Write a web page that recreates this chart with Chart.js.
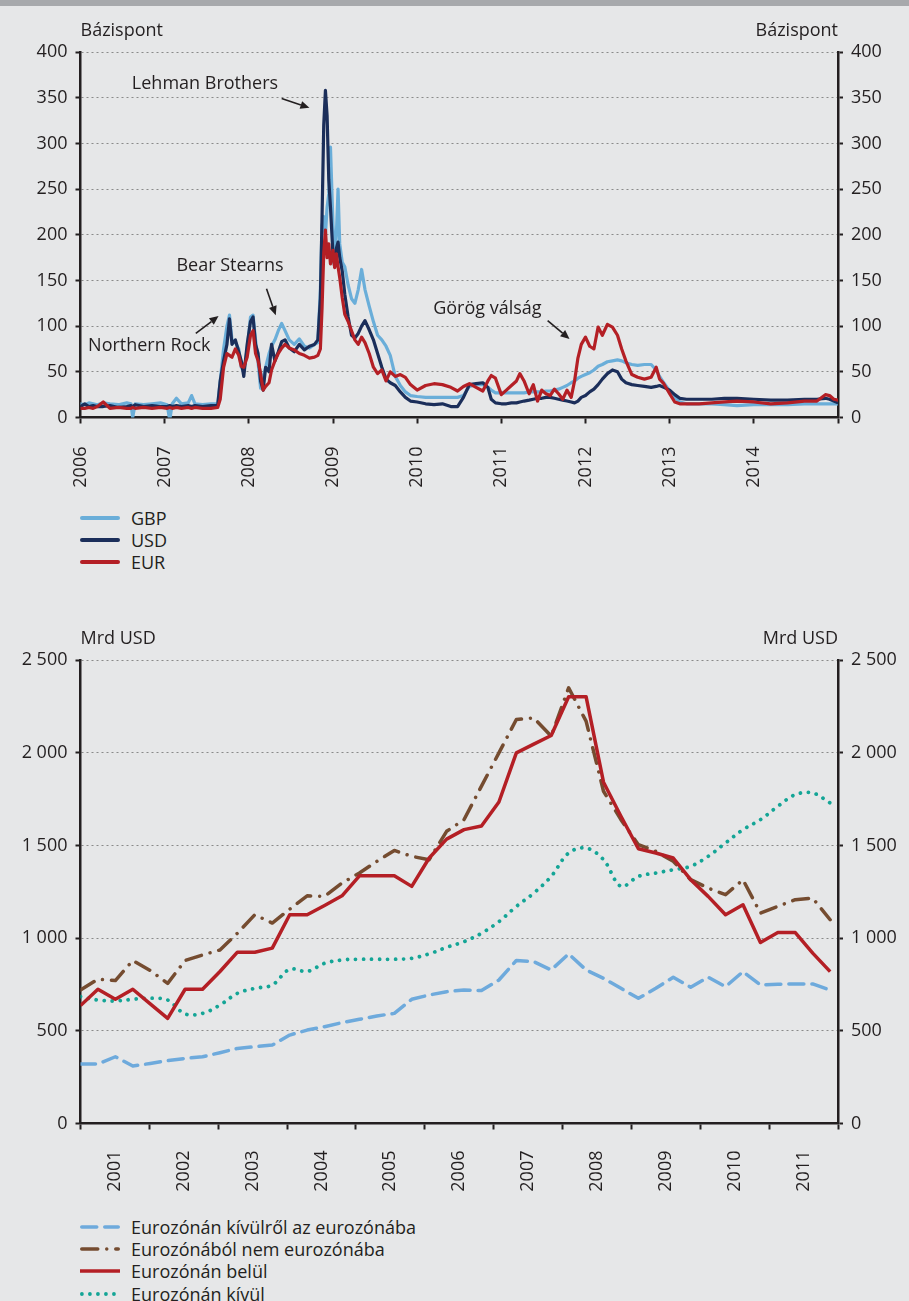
<!DOCTYPE html>
<html lang="hu">
<head>
<meta charset="utf-8">
<title>Bankközi felárak és határon átnyúló hitelezés</title>
<script src="https://cdn.jsdelivr.net/npm/chart.js@4.4.1/dist/chart.umd.min.js"></script>
<style>
  html, body { margin: 0; padding: 0; }
  body {
    width: 909px; height: 1301px; position: relative; overflow: hidden;
    background: #e6e7e8; color: #231f20;
    font-family: 'Open Sans', sans-serif;
  }
  .topbar { position: absolute; left: 0; top: 0; width: 909px; height: 6px; background: #a7a9ac; }
  canvas { position: absolute; left: 0; }
  #spreadChart { top: 0; }
  #flowChart { top: 600px; }
  .legend { position: absolute; left: 80px; font-size: 18px; }
  .legend div { display: flex; align-items: center; height: 22.2px; white-space: nowrap; }
  .legend svg { flex: none; margin-right: 11px; }
  #spreadLegend { top: 507px; }
  #flowLegend { top: 1216px; }
</style>
</head>
<body>
<div class="topbar"></div>
<canvas id="spreadChart" width="909" height="500"></canvas>
<div class="legend" id="spreadLegend"></div>
<canvas id="flowChart" width="909" height="600"></canvas>
<div class="legend" id="flowLegend"></div>

<script>
// ---- top chart: spreads in basis points ----
const spreadDates = [
  2006.00, 2006.05, 2006.10, 2006.15, 2006.20, 2006.27, 2006.35, 2006.45, 2006.55, 2006.60,
  2006.62, 2006.65, 2006.75, 2006.85, 2006.95, 2007.03, 2007.06, 2007.09, 2007.14, 2007.20,
  2007.28, 2007.32, 2007.36, 2007.45, 2007.55, 2007.63, 2007.66, 2007.70, 2007.74, 2007.77,
  2007.80, 2007.84, 2007.88, 2007.91, 2007.94, 2007.98, 2008.02, 2008.05, 2008.08, 2008.11,
  2008.14, 2008.17, 2008.20, 2008.24, 2008.27, 2008.31, 2008.35, 2008.39, 2008.43, 2008.48,
  2008.54, 2008.60, 2008.66, 2008.72, 2008.78, 2008.82, 2008.85, 2008.87, 2008.89, 2008.91,
  2008.93, 2008.95, 2008.97, 2009.00, 2009.02, 2009.04, 2009.06, 2009.08, 2009.11, 2009.14,
  2009.18, 2009.22, 2009.26, 2009.30, 2009.34, 2009.38, 2009.43, 2009.48, 2009.53, 2009.58,
  2009.63, 2009.68, 2009.74, 2009.80, 2009.86, 2009.92, 2010.00, 2010.10, 2010.20, 2010.30,
  2010.40, 2010.48, 2010.55, 2010.62, 2010.70, 2010.78, 2010.84, 2010.88, 2010.93, 2011.00,
  2011.06, 2011.12, 2011.18, 2011.22, 2011.27, 2011.33, 2011.38, 2011.43, 2011.48, 2011.53,
  2011.58, 2011.63, 2011.68, 2011.73, 2011.78, 2011.83, 2011.87, 2011.91, 2011.95, 2012.00,
  2012.05, 2012.10, 2012.15, 2012.20, 2012.26, 2012.32, 2012.38, 2012.43, 2012.48, 2012.55,
  2012.62, 2012.70, 2012.78, 2012.84, 2012.88, 2012.93, 2013.00, 2013.06, 2013.12, 2013.20,
  2013.35, 2013.50, 2013.65, 2013.80, 2014.00, 2014.20, 2014.40, 2014.60, 2014.75, 2014.85,
  2014.90, 2014.95, 2015.00
];
const gbp = [
  15, 14, 16, 15, 14, 16, 15, 14, 16, 15,
  0, 15, 14, 15, 16, 14, -3, 15, 21, 15,
  16, 24, 15, 14, 15, 15, 40, 75, 100, 112,
  85, 82, 75, 55, 50, 75, 110, 112, 85, 60,
  32, 45, 55, 70, 78, 85, 95, 103, 95, 85,
  80, 86, 78, 76, 80, 82, 140, 210, 220, 200,
  230, 245, 296, 210, 175, 200, 250, 190, 170, 165,
  145, 130, 125, 140, 162, 140, 122, 105, 90, 85,
  78, 68, 45, 35, 28, 24, 23, 22, 22, 22,
  22, 22, 24, 34, 36, 36, 33, 30, 27, 27,
  27, 27, 27, 27, 27, 28, 28, 28, 28, 29,
  29, 30, 31, 33, 35, 38, 40, 43, 45, 47,
  49, 52, 56, 58, 61, 62, 63, 62, 60, 58,
  57, 58, 58, 52, 45, 38, 29, 22, 17, 15,
  15, 15, 14, 13, 14, 14, 14, 15, 15, 15,
  15, 15, 15
];
const usd = [
  12, 15, 12, 13, 12, 12, 13, 11, 12, 13,
  12, 14, 12, 13, 12, 12, 13, 12, 13, 12,
  13, 12, 13, 12, 13, 13, 40, 62, 80, 108,
  80, 85, 72, 62, 45, 80, 105, 110, 80, 70,
  40, 30, 55, 50, 80, 62, 72, 83, 85, 76,
  72, 80, 74, 78, 80, 85, 130, 220, 320, 358,
  330, 260, 230, 178, 165, 185, 192, 175, 160, 135,
  110, 90, 87, 92, 100, 106, 96, 85, 70, 55,
  42, 38, 35, 28, 22, 18, 17, 15, 14, 15,
  12, 12, 22, 36, 37, 38, 33, 20, 16, 15,
  15, 16, 16, 17, 18, 19, 20, 21, 21, 22,
  22, 21, 20, 19, 18, 17, 16, 18, 22, 24,
  28, 31, 36, 42, 48, 52, 50, 42, 38, 36,
  35, 34, 33, 34, 35, 33, 30, 25, 21, 20,
  20, 20, 21, 21, 20, 19, 19, 20, 20, 21,
  20, 18, 16
];
const eur = [
  10, 10, 11, 10, 12, 17, 10, 11, 10, 10,
  11, 10, 11, 10, 11, 10, 11, 10, 11, 10,
  11, 10, 11, 10, 10, 11, 20, 55, 70, 68,
  66, 75, 68, 56, 55, 66, 90, 95, 70, 62,
  48, 30, 34, 38, 52, 62, 70, 76, 80, 76,
  74, 70, 68, 65, 66, 68, 75, 120, 180, 205,
  175, 190, 168, 183, 164, 179, 165, 153, 131, 113,
  105, 95, 85, 80, 88, 82, 70, 55, 48, 52,
  40, 50, 45, 47, 44, 36, 30, 35, 37, 36,
  33, 29, 34, 37, 33, 29, 40, 46, 43, 25,
  30, 35, 40, 48, 40, 26, 36, 18, 30, 26,
  24, 31, 26, 20, 30, 22, 40, 65, 80, 88,
  78, 75, 99, 90, 102, 99, 90, 75, 62, 47,
  44, 42, 44, 55, 42, 37, 26, 17, 15, 15,
  15, 16, 17, 18, 17, 15, 16, 18, 18, 25,
  24, 20, 19
];
const spreadYears = ['2006', '2007', '2008', '2009', '2010', '2011', '2012', '2013', '2014'];
const spreadTicks = ['0', '50', '100', '150', '200', '250', '300', '350', '400'];

// callouts, placed in data units (year, bp)
const spreadNotes = [
  { text: 'Lehman Brothers', at: [2006.61, 365], from: [2008.39, 349], to: [2008.72, 339] },
  { text: 'Bear Stearns', at: [2007.14, 166], from: [2008.21, 141], to: [2008.32, 112] },
  { text: 'Northern Rock', at: [2006.09, 78], from: [2007.37, 92], to: [2007.64, 111] },
  { text: 'Görög válság', at: [2010.19, 119], from: [2011.55, 106], to: [2011.81, 86] }
];

// ---- bottom chart: quarterly flows, bn USD ----
const flowYears = ['2001', '2002', '2003', '2004', '2005', '2006', '2007', '2008', '2009', '2010', '2011'];
const flowTicks = ['0', '500', '1 000', '1 500', '2 000', '2 500'];
const outsideToEuro = [
  321, 321, 360, 310, 324, 339, 351, 360, 382, 405,
  414, 423, 477, 504, 522, 544, 562, 580, 594, 670,
  693, 711, 720, 717, 774, 879, 873, 828, 915, 828,
  783, 729, 675, 729, 789, 735, 789, 738, 819, 747,
  751, 753, 753, 720
];
const euroToOutside = [
  720, 778, 771, 879, 825, 756, 879, 909, 936, 1026,
  1126, 1081, 1156, 1228, 1225, 1297, 1351, 1414, 1473, 1441,
  1423, 1576, 1639, 1820, 1999, 2179, 2188, 2089, 2350, 2170,
  1792, 1639, 1504, 1468, 1414, 1315, 1270, 1234, 1315, 1135,
  1171, 1207, 1216, 1099
];
const insideEuro = [
  636, 724, 670, 724, 645, 567, 724, 724, 820, 924,
  924, 946, 1126, 1126, 1176, 1228, 1336, 1336, 1336, 1279,
  1432, 1534, 1585, 1605, 1734, 1999, 2046, 2093, 2302, 2302,
  1841, 1657, 1482, 1459, 1432, 1315, 1225, 1126, 1180, 976,
  1030, 1030, 919, 819
];
const outsideEuro = [
  684, 666, 661, 670, 676, 666, 591, 594, 639, 702,
  729, 747, 832, 820, 864, 882, 886, 886, 886, 891,
  915, 950, 981, 1026, 1089, 1171, 1243, 1333, 1459, 1486,
  1423, 1279, 1333, 1351, 1369, 1387, 1441, 1513, 1585, 1639,
  1711, 1774, 1783, 1729
];

const ink = '#231f20';
Chart.defaults.font.family = "'Open Sans', sans-serif";
Chart.defaults.font.size = 18;
Chart.defaults.color = ink;

function valueAxis(position, max, step, labels) {
  return {
    position: position,
    min: 0,
    max: max,
    ticks: { stepSize: step, padding: 8, callback: (v, i) => labels[i] },
    grid: {
      drawOnChartArea: position === 'left',
      color: c => (c.tick && c.tick.value === 0) ? 'rgba(0,0,0,0)' : '#8a8a8a',
      lineWidth: 1,
      tickLength: 5,
      tickColor: ink,
      tickWidth: 2
    },
    border: { color: ink, width: 2.5, dash: [2, 3] },
    afterFit: s => { s.width = position === 'left' ? 80.5 : 71; }
  };
}

function yearAxis(min, max, labels, pad, height, offset) {
  return {
    type: 'linear',
    position: 'bottom',
    min: min,
    max: max,
    ticks: {
      stepSize: 1, autoSkip: false, minRotation: 90, maxRotation: 90,
      padding: pad, labelOffset: offset,
      callback: (v, i) => labels[i] ?? ''
    },
    grid: { drawOnChartArea: false, tickLength: 6, tickColor: ink, tickWidth: 2 },
    border: { color: ink, width: 2.5 },
    afterFit: s => { s.height = height; }
  };
}

const unitLabels = {
  id: 'unitLabels',
  afterDraw(chart, args, opts) {
    const { ctx, chartArea } = chart;
    ctx.save();
    ctx.font = "18px 'Open Sans'";
    ctx.fillStyle = ink;
    ctx.textBaseline = 'alphabetic';
    ctx.textAlign = 'left';
    ctx.fillText(opts.text, chartArea.left, chartArea.top - 16);
    ctx.textAlign = 'right';
    ctx.fillText(opts.text, chartArea.right, chartArea.top - 16);
    ctx.restore();
  }
};

const callouts = {
  id: 'callouts',
  afterDatasetsDraw(chart, args, opts) {
    if (!opts.notes) return;
    const { ctx, scales: { x, y } } = chart;
    ctx.save();
    ctx.font = "18px 'Open Sans'";
    ctx.fillStyle = ink;
    ctx.strokeStyle = ink;
    ctx.lineWidth = 1.6;
    ctx.textAlign = 'left';
    ctx.textBaseline = 'middle';
    opts.notes.forEach(n => {
      ctx.fillText(n.text, x.getPixelForValue(n.at[0]), y.getPixelForValue(n.at[1]));
      const x1 = x.getPixelForValue(n.from[0]), y1 = y.getPixelForValue(n.from[1]);
      const x2 = x.getPixelForValue(n.to[0]), y2 = y.getPixelForValue(n.to[1]);
      const a = Math.atan2(y2 - y1, x2 - x1);
      const head = 9, half = 4;
      const bx = x2 - head * Math.cos(a), by = y2 - head * Math.sin(a);
      ctx.beginPath();
      ctx.moveTo(x1, y1);
      ctx.lineTo(bx, by);
      ctx.stroke();
      ctx.beginPath();
      ctx.moveTo(x2, y2);
      ctx.lineTo(bx + half * Math.sin(a), by - half * Math.cos(a));
      ctx.lineTo(bx - half * Math.sin(a), by + half * Math.cos(a));
      ctx.closePath();
      ctx.fill();
    });
    ctx.restore();
  }
};

function buildLegend(chart, id, sampleWidth) {
  const box = document.getElementById(id);
  chart.data.datasets.forEach(ds => {
    const w = sampleWidth || ds.borderWidth;
    const cap = ds.borderCapStyle || 'butt';
    const inset = cap === 'round' ? w / 2 : 0;
    const dash = (ds.borderDash || []).join(' ');
    const row = document.createElement('div');
    row.innerHTML =
      '<svg width="40" height="10"><line x1="' + inset + '" y1="5" x2="' + (40 - inset) + '" y2="5" stroke="' +
      ds.borderColor + '" stroke-width="' + w + '" stroke-linecap="' + cap + '"' +
      (dash ? ' stroke-dasharray="' + dash + '"' : '') + '/></svg><span>' + ds.label + '</span>';
    box.appendChild(row);
  });
}

const toPoints = (xs, ys) => ys.map((v, i) => ({ x: xs[i], y: v }));
const lineBase = { pointRadius: 0, pointHoverRadius: 0, fill: false, borderJoinStyle: 'round', tension: 0 };

const spreadChart = new Chart(document.getElementById('spreadChart'), {
  type: 'line',
  data: {
    datasets: [
      Object.assign({ label: 'GBP', data: toPoints(spreadDates, gbp), borderColor: '#6aaed9', borderWidth: 3.2, borderCapStyle: 'round', order: 3 }, lineBase),
      Object.assign({ label: 'USD', data: toPoints(spreadDates, usd), borderColor: '#1b2e5a', borderWidth: 3.2, borderCapStyle: 'round', order: 2 }, lineBase),
      Object.assign({ label: 'EUR', data: toPoints(spreadDates, eur), borderColor: '#b41f25', borderWidth: 3.2, borderCapStyle: 'round', order: 1 }, lineBase)
    ]
  },
  options: {
    responsive: false,
    animation: false,
    layout: { padding: { top: 52, left: 0, right: 0, bottom: 0 } },
    plugins: {
      legend: { display: false },
      tooltip: { enabled: false },
      unitLabels: { text: 'Bázispont' },
      callouts: { notes: spreadNotes }
    },
    scales: {
      x: yearAxis(2006, 2015, spreadYears, 23, 82.5, 0),
      y: valueAxis('left', 400, 50, spreadTicks),
      y2: valueAxis('right', 400, 50, spreadTicks)
    }
  },
  plugins: [unitLabels, callouts]
});
buildLegend(spreadChart, 'spreadLegend', 4);

const quarterIndex = insideEuro.map((v, i) => i);

const flowChart = new Chart(document.getElementById('flowChart'), {
  type: 'line',
  data: {
    datasets: [
      Object.assign({ label: 'Eurozónán kívülről az eurozónába', data: toPoints(quarterIndex, outsideToEuro),
        borderColor: '#6eaadc', borderWidth: 3.5, borderDash: [15, 8], borderCapStyle: 'round', order: 3 }, lineBase),
      Object.assign({ label: 'Eurozónából nem eurozónába', data: toPoints(quarterIndex, euroToOutside),
        borderColor: '#754c30', borderWidth: 3.5, borderDash: [16, 9, 0.01, 9], borderCapStyle: 'round', order: 2 }, lineBase),
      Object.assign({ label: 'Eurozónán belül', data: toPoints(quarterIndex, insideEuro),
        borderColor: '#b41f25', borderWidth: 3.5, borderCapStyle: 'butt', order: 1 }, lineBase),
      Object.assign({}, lineBase, { label: 'Eurozónán kívül', data: toPoints(quarterIndex, outsideEuro),
        borderColor: '#14a596', borderWidth: 3.8, borderDash: [0.01, 8], borderCapStyle: 'round', tension: 0.35, order: 4 })
    ].map(ds => Object.assign(ds, { xAxisID: 'q' }))
  },
  options: {
    responsive: false,
    animation: false,
    layout: { padding: { top: 60, left: 0, right: 0, bottom: 0 } },
    plugins: {
      legend: { display: false },
      tooltip: { enabled: false },
      unitLabels: { text: 'Mrd USD' },
      callouts: {}
    },
    scales: {
      q: { type: 'linear', display: false, min: 0, max: 43.45 },
      x: yearAxis(2001, 2012, flowYears, 21, 76.5, 34.4),
      y: valueAxis('left', 2500, 500, flowTicks),
      y2: valueAxis('right', 2500, 500, flowTicks)
    }
  },
  plugins: [unitLabels, callouts]
});
buildLegend(flowChart, 'flowLegend');
</script>
</body>
</html>
